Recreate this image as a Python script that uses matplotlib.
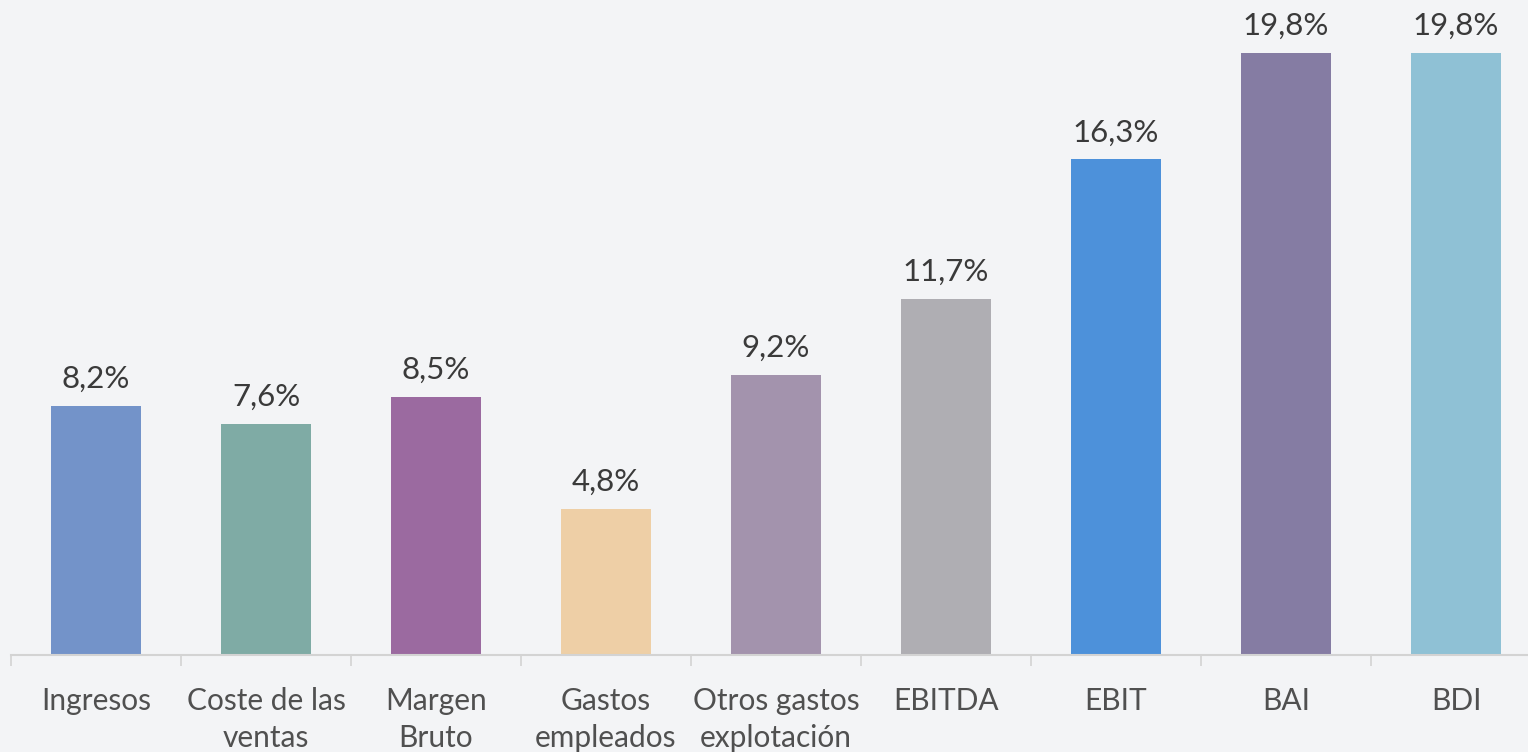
import matplotlib
matplotlib.use('Agg')
import matplotlib.pyplot as plt

# Data
categories = ['Ingresos', 'Coste de las\nventas', 'Margen\nBruto', 'Gastos\nempleados',
              'Otros gastos\nexplotación', 'EBITDA', 'EBIT', 'BAI', 'BDI']
values = [8.2, 7.6, 8.5, 4.8, 9.2, 11.7, 16.3, 19.8, 19.8]
colors = ['#7393c9', '#7faba5', '#9b6aa0', '#eecfa6', '#a393ad',
          '#afaeb3', '#4d91da', '#857ca3', '#8fc1d5']

plt.rcParams['font.family'] = ['Lato', 'DejaVu Sans']

bg = '#f3f4f6'
fig = plt.figure(figsize=(15.28, 7.52), dpi=100, facecolor=bg)
ax = fig.add_axes([11 / 1528, 97 / 752, 1530 / 1528, 655 / 752])
ax.set_facecolor(bg)

x = list(range(len(values)))
ax.bar(x, values, width=0.53, color=colors, zorder=2)

for xi, v in zip(x, values):
    ax.annotate(f'{v:.1f}%'.replace('.', ','), (xi, v), xytext=(0, 13),
                textcoords='offset points', ha='center', va='baseline',
                fontsize=22.5, color='#3a3a3a')

ax.set_xlim(-0.5, 8.5)
ax.set_ylim(0, 655 / 30.4)

for s in ['top', 'right', 'left']:
    ax.spines[s].set_visible(False)
ax.spines['bottom'].set_color('#d3d3d3')
ax.spines['bottom'].set_linewidth(1.5)
ax.set_yticks([])

ax.set_xticks([i - 0.5 for i in range(len(values) + 1)], minor=False)
ax.set_xticklabels([])
ax.tick_params(axis='x', which='major', length=8, width=1.2, color='#d3d3d3')
ax.set_xticks(x, minor=True)
ax.set_xticklabels(categories, minor=True, fontsize=21.5, color='#505050', linespacing=1.38)
ax.tick_params(axis='x', which='minor', length=0, pad=23)

fig.savefig('out.png', dpi=100, facecolor=bg)
